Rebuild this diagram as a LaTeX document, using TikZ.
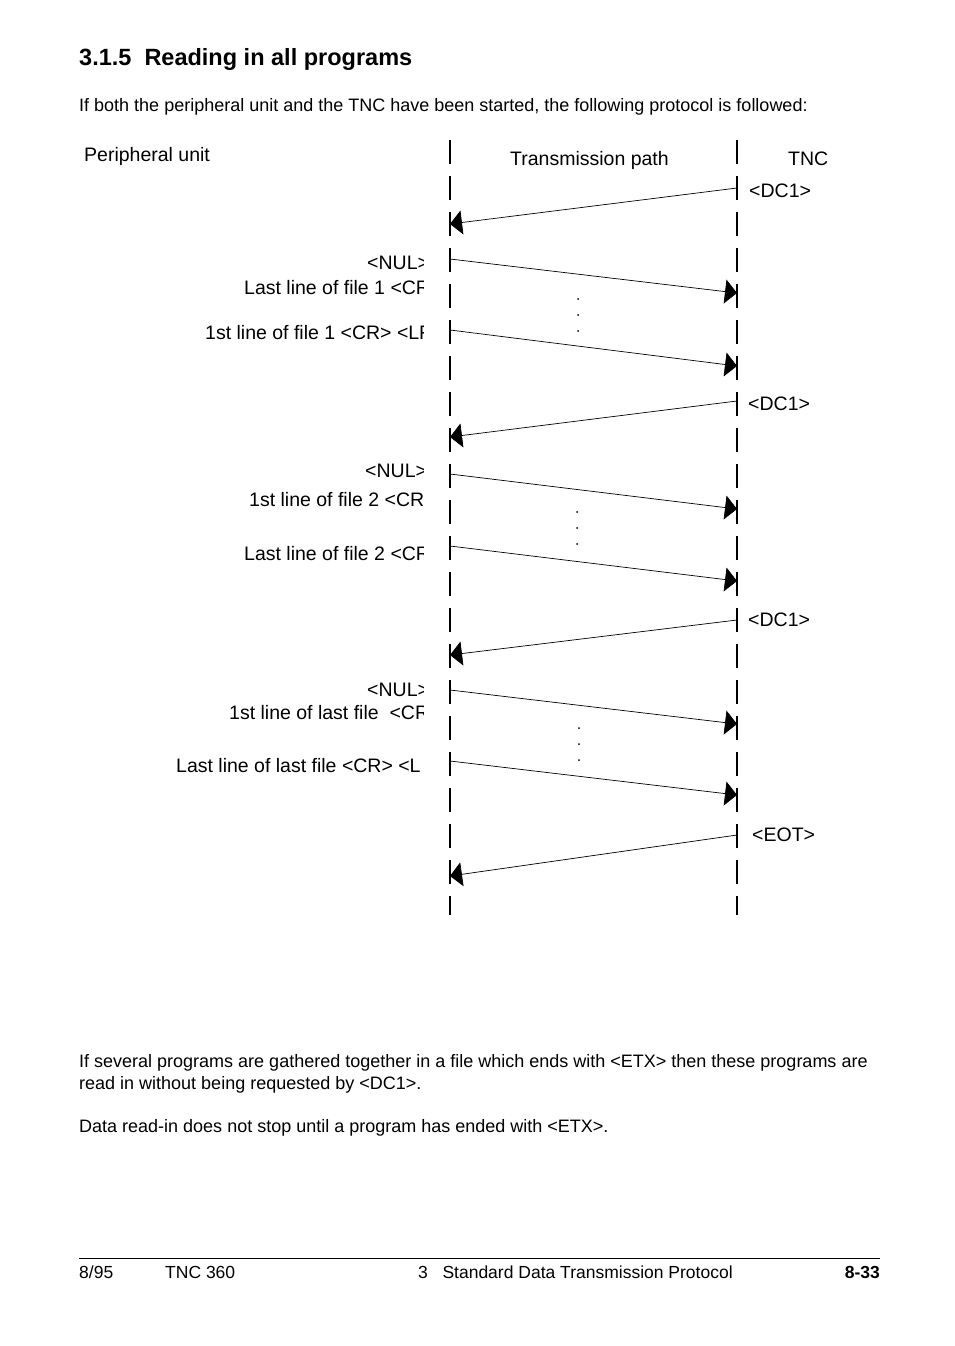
\documentclass[tikz,border=0pt]{standalone}
\usepackage{fontspec}
\setmainfont{Liberation Sans}
\usetikzlibrary{arrows.meta}

\tikzset{
  lifeline/.style={line width=2.3pt, dash pattern=on 24pt off 12pt},
  msg/.style={line width=0.7pt, -{Triangle[length=12pt,width=24pt]}},
  lbl/.style={inner sep=0pt, font=\fontsize{19.5}{22}\selectfont},
  body/.style={inner sep=0pt, anchor=base west, font=\fontsize{18}{21}\selectfont},
  foot/.style={inner sep=0pt, anchor=base west, font=\fontsize{17.5}{20}\selectfont},
  dotmark/.style={circle, fill, inner sep=0pt, minimum size=2pt},
}

\begin{document}
\begin{tikzpicture}[x=1pt, y=-1pt]
\useasboundingbox (0,0) rectangle (954,1346);

% ===== Heading and intro =====
\node[body, font=\fontsize{23.5}{26}\bfseries] (title) at (79,66) {3.1.5\ \ Reading in all programs};
\node[body] (intro) at (79,111) {If both the peripheral unit and the TNC have been started, the following protocol is followed:};

% ===== Lifelines =====
\coordinate (ltop) at (450,140);
\coordinate (lbot) at (450,915);
\coordinate (rtop) at (737,140);
\coordinate (rbot) at (737,915);
\draw[lifeline] (ltop) -- (lbot);
\draw[lifeline] (rtop) -- (rbot);

% Column headings
\node[lbl, anchor=base west] (periph) at (84,161) {Peripheral unit};
\node[lbl, anchor=base west] (path) at (510,165) {Transmission path};
\node[lbl, anchor=base west] (tnc) at (788,165) {TNC};

% ===== Messages (left x = 450, right x = 737) =====
\coordinate (r1) at (737,188);  \coordinate (l1) at (450,224);
\coordinate (l2) at (450,259);  \coordinate (r2) at (737,293);
\coordinate (l3) at (450,330);  \coordinate (r3) at (737,366);
\coordinate (r4) at (737,401);  \coordinate (l4) at (450,437);
\coordinate (l5) at (450,474);  \coordinate (r5) at (737,509);
\coordinate (l6) at (450,546);  \coordinate (r6) at (737,581);
\coordinate (r7) at (737,620);  \coordinate (l7) at (450,655);
\coordinate (l8) at (450,690);  \coordinate (r8) at (737,724);
\coordinate (l9) at (450,761);  \coordinate (r9) at (737,795);
\coordinate (r10) at (737,835); \coordinate (l10) at (450,876);

\draw[msg] (r1) -- (l1);
\draw[msg] (l2) -- (r2);
\draw[msg] (l3) -- (r3);
\draw[msg] (r4) -- (l4);
\draw[msg] (l5) -- (r5);
\draw[msg] (l6) -- (r6);
\draw[msg] (r7) -- (l7);
\draw[msg] (l8) -- (r8);
\draw[msg] (l9) -- (r9);
\draw[msg] (r10) -- (l10);

% TNC side labels
\node[lbl, anchor=base west] (dc1a) at (749,197) {<DC1>};
\node[lbl, anchor=base west] (dc1b) at (748,410) {<DC1>};
\node[lbl, anchor=base west] (dc1c) at (748,626) {<DC1>};
\node[lbl, anchor=base west] (eot) at (752,841) {<EOT>};

% Peripheral side labels (cut off at the lifeline)
\begin{scope}
\clip (60,230) rectangle (423,790);
\node[lbl, anchor=base west] (nul1) at (367,269) {<NUL>};
\node[lbl, anchor=base west] (last1) at (244,294) {Last line of file 1 <CR};
\node[lbl, anchor=base west] (first1) at (205,339) {1st line of file 1 <CR> <LF};
\node[lbl, anchor=base west] (nul2) at (365,477) {<NUL>};
\node[lbl, anchor=base west] (first2) at (249,506) {1st line of file 2 <CR};
\node[lbl, anchor=base west] (last2) at (244,560) {Last line of file 2 <CR};
\node[lbl, anchor=base west] (nul3) at (367,696) {<NUL>};
\node[lbl, anchor=base west] (firstn) at (229,719) {1st line of last file\ \ <CR};
\node[lbl, anchor=base west] (lastn) at (176,772) {Last line of last file <CR> <L};
\end{scope}

% Dots between lines
\foreach \x/\y [count=\i] in {578/299, 577/512, 579/728} {
  \node[dotmark] (dot\i a) at (\x,\y) {};
  \node[dotmark] (dot\i b) at (\x,\y+16) {};
  \node[dotmark] (dot\i c) at (\x,\y+32) {};
}

% ===== Closing text =====
\node[body] (note1) at (79,1067) {If several programs are gathered together in a file which ends with <ETX> then these programs are};
\node[body] (note2) at (79,1089) {read in without being requested by <DC1>.};
\node[body] (note3) at (79,1132) {Data read-in does not stop until a program has ended with <ETX>.};

% ===== Footer =====
\coordinate (fl) at (79,1258);
\coordinate (fr) at (880,1258);
\draw[line width=1pt] (fl) -- (fr);
\node[foot] (date) at (79,1278) {8/95};
\node[foot] (model) at (165,1278) {TNC 360};
\node[foot] (chap) at (418,1278) {3\ \ \ Standard Data Transmission Protocol};
\node[foot, anchor=base east, font=\fontsize{17.5}{20}\bfseries] (page) at (880,1278) {8-33};
\end{tikzpicture}
\end{document}
